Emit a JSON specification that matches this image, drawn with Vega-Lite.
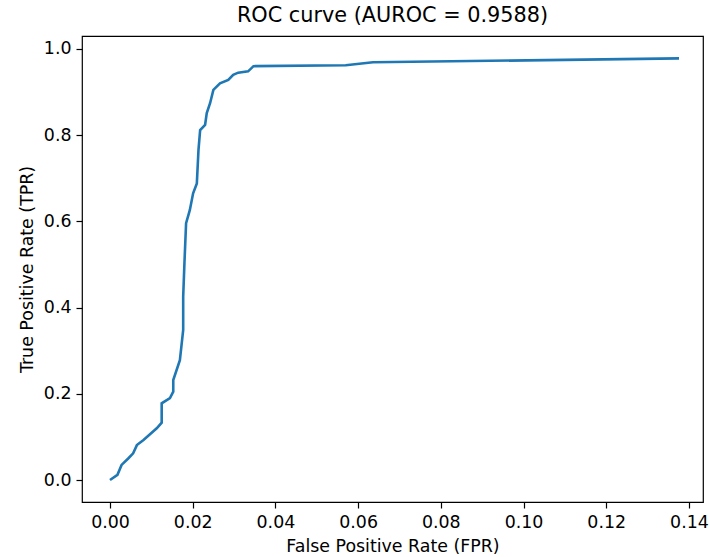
{
  "$schema": "https://vega.github.io/schema/vega-lite/v6.json",
  "width": 621,
  "height": 466,
  "autosize": {"type": "none"},
  "padding": {"left": 82, "top": 36, "right": 7, "bottom": 55},
  "background": "white",
  "title": {
    "text": "ROC curve (AUROC = 0.9588)",
    "font": "DejaVu Sans",
    "fontSize": 20.8,
    "fontWeight": "normal",
    "color": "#000",
    "anchor": "middle",
    "offset": 9
  },
  "config": {
    "view": {"stroke": "#000", "strokeWidth": 1.2},
    "axis": {
      "grid": false,
      "domain": false,
      "ticks": true,
      "tickSize": 6,
      "tickWidth": 1.2,
      "tickColor": "#000",
      "labelFont": "DejaVu Sans",
      "labelFontSize": 17.4,
      "labelColor": "#000",
      "labelPadding": 5,
      "titleFont": "DejaVu Sans",
      "titleFontSize": 17.4,
      "titleFontWeight": "normal",
      "titleColor": "#000",
      "titlePadding": 7
    }
  },
  "data": {
    "values": [
      {"i": 0, "fpr": 0.0, "tpr": 0.0},
      {"i": 1, "fpr": 0.0018, "tpr": 0.012},
      {"i": 2, "fpr": 0.0028, "tpr": 0.035},
      {"i": 3, "fpr": 0.0044, "tpr": 0.05},
      {"i": 4, "fpr": 0.0056, "tpr": 0.062},
      {"i": 5, "fpr": 0.0065, "tpr": 0.081},
      {"i": 6, "fpr": 0.0081, "tpr": 0.093},
      {"i": 7, "fpr": 0.0113, "tpr": 0.12},
      {"i": 8, "fpr": 0.0125, "tpr": 0.133},
      {"i": 9, "fpr": 0.0125, "tpr": 0.178},
      {"i": 10, "fpr": 0.0145, "tpr": 0.19},
      {"i": 11, "fpr": 0.0153, "tpr": 0.205},
      {"i": 12, "fpr": 0.0153, "tpr": 0.232},
      {"i": 13, "fpr": 0.0169, "tpr": 0.278},
      {"i": 14, "fpr": 0.0177, "tpr": 0.348},
      {"i": 15, "fpr": 0.0177, "tpr": 0.425},
      {"i": 16, "fpr": 0.018, "tpr": 0.503},
      {"i": 17, "fpr": 0.0184, "tpr": 0.596},
      {"i": 18, "fpr": 0.0193, "tpr": 0.626},
      {"i": 19, "fpr": 0.0201, "tpr": 0.665},
      {"i": 20, "fpr": 0.021, "tpr": 0.688},
      {"i": 21, "fpr": 0.0214, "tpr": 0.766},
      {"i": 22, "fpr": 0.0218, "tpr": 0.812},
      {"i": 23, "fpr": 0.023, "tpr": 0.824},
      {"i": 24, "fpr": 0.0234, "tpr": 0.851},
      {"i": 25, "fpr": 0.0242, "tpr": 0.874},
      {"i": 26, "fpr": 0.025, "tpr": 0.905},
      {"i": 27, "fpr": 0.0266, "tpr": 0.92},
      {"i": 28, "fpr": 0.0286, "tpr": 0.928},
      {"i": 29, "fpr": 0.0298, "tpr": 0.94},
      {"i": 30, "fpr": 0.031, "tpr": 0.945},
      {"i": 31, "fpr": 0.0334, "tpr": 0.948},
      {"i": 32, "fpr": 0.0347, "tpr": 0.96},
      {"i": 33, "fpr": 0.057, "tpr": 0.962},
      {"i": 34, "fpr": 0.0636, "tpr": 0.969},
      {"i": 35, "fpr": 0.1376, "tpr": 0.978}
    ]
  },
  "mark": {"type": "line", "color": "#1f77b4", "strokeWidth": 2.6, "clip": true},
  "encoding": {
    "x": {
      "field": "fpr",
      "type": "quantitative",
      "title": "False Positive Rate (FPR)",
      "scale": {"domain": [-0.00677, 0.1434], "nice": false, "zero": false},
      "axis": {"values": [0, 0.02, 0.04, 0.06, 0.08, 0.1, 0.12, 0.14], "format": ".2f"}
    },
    "y": {
      "field": "tpr",
      "type": "quantitative",
      "title": "True Positive Rate (TPR)",
      "scale": {"domain": [-0.051, 1.03], "nice": false, "zero": false},
      "axis": {"values": [0, 0.2, 0.4, 0.6, 0.8, 1.0], "format": ".1f"}
    },
    "order": {"field": "i", "type": "quantitative"}
  }
}
